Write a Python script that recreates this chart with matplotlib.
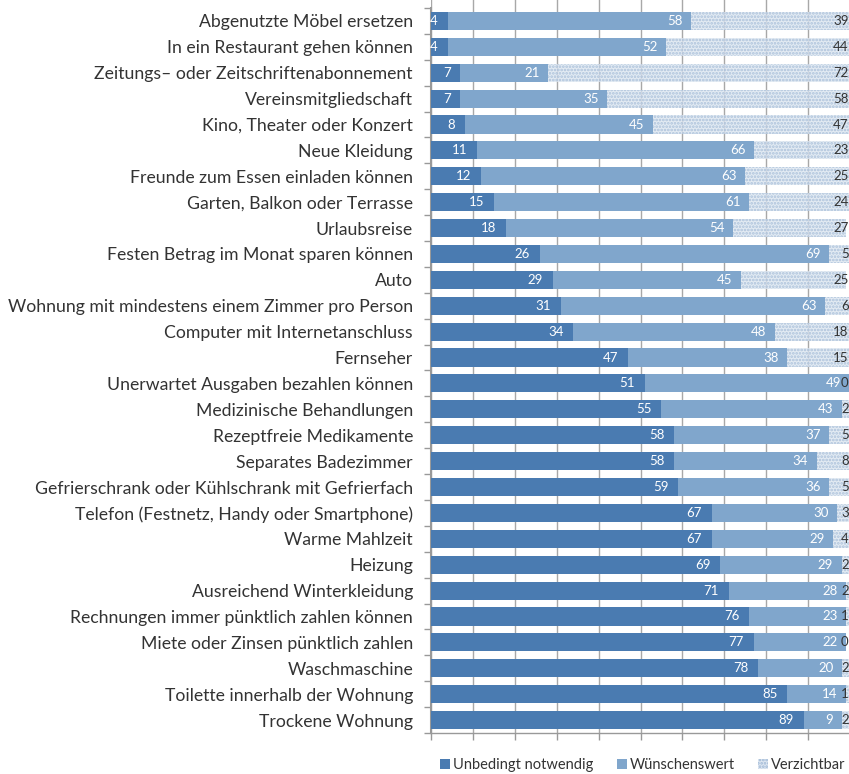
import numpy as np
import matplotlib.pyplot as plt
from matplotlib.patches import Patch

plt.rcParams['font.family'] = ['Lato', 'DejaVu Sans']
plt.rcParams['hatch.linewidth'] = 1.3

categories = [
    'Abgenutzte Möbel ersetzen',
    'In ein Restaurant gehen können',
    'Zeitungs– oder Zeitschriftenabonnement',
    'Vereinsmitgliedschaft',
    'Kino, Theater oder Konzert',
    'Neue Kleidung',
    'Freunde zum Essen einladen können',
    'Garten, Balkon oder Terrasse',
    'Urlaubsreise',
    'Festen Betrag im Monat sparen können',
    'Auto',
    'Wohnung mit mindestens einem Zimmer pro Person',
    'Computer mit Internetanschluss',
    'Fernseher',
    'Unerwartet Ausgaben bezahlen können',
    'Medizinische Behandlungen',
    'Rezeptfreie Medikamente',
    'Separates Badezimmer',
    'Gefrierschrank oder Kühlschrank mit Gefrierfach',
    'Telefon (Festnetz, Handy oder Smartphone)',
    'Warme Mahlzeit',
    'Heizung',
    'Ausreichend Winterkleidung',
    'Rechnungen immer pünktlich zahlen können',
    'Miete oder Zinsen pünktlich zahlen',
    'Waschmaschine',
    'Toilette innerhalb der Wohnung',
    'Trockene Wohnung',
]
notwendig = [4, 4, 7, 7, 8, 11, 12, 15, 18, 26, 29, 31, 34, 47, 51, 55, 58, 58, 59, 67, 67, 69, 71, 76, 77, 78, 85, 89]
wuenschenswert = [58, 52, 21, 35, 45, 66, 63, 61, 54, 69, 45, 63, 48, 38, 49, 43, 37, 34, 36, 30, 29, 29, 28, 23, 22, 20, 14, 9]
verzichtbar = [39, 44, 72, 58, 47, 23, 25, 24, 27, 5, 25, 6, 18, 15, 0, 2, 5, 8, 5, 3, 4, 2, 2, 1, 0, 2, 1, 2]
series_names = ['Unbedingt notwendig', 'Wünschenswert', 'Verzichtbar']

c_dark = '#4a7bb1'
c_light = '#80a6cc'
c_hatch_face = '#dde6f1'
c_hatch_edge = '#9fb8d5'

fig = plt.figure(figsize=(8.49, 7.74), dpi=100)
ax = fig.add_axes([0.5077, 0.053, 0.4935, 0.947])

y = np.arange(len(categories))
a = np.array(notwendig)
b = np.array(wuenschenswert)
c = np.array(verzichtbar)
h = 0.7

ax.barh(y, a, height=h, color=c_dark, zorder=3)
ax.barh(y, b, left=a, height=h, color=c_light, zorder=3)
ax.barh(y, c, left=a + b, height=h, color=c_hatch_face, alpha=0.8,
        hatch='.....', edgecolor=c_hatch_edge, linewidth=0, zorder=3)

ax.set_xlim(0, 100)
ax.set_ylim(27.5, -0.5 - 8 / 25.9)

ax.set_xticks(np.arange(0, 101, 10))
ax.set_xticklabels([])
ax.xaxis.grid(True, color='#a8a8a8', linewidth=1.0, zorder=0)
ax.set_axisbelow(True)
ax.tick_params(axis='x', length=5, color='#999999', width=1)

ax.set_yticks(y)
ax.set_yticklabels(categories, fontsize=12.7, color='#333333')
ax.set_yticks(np.arange(-0.5, len(categories)), minor=True)
ax.tick_params(axis='y', which='major', length=0, pad=13)
ax.tick_params(axis='y', which='minor', length=5, color='#999999', width=1)

for s in ['top', 'right']:
    ax.spines[s].set_visible(False)
ax.spines['left'].set_bounds(-0.5, 27.5)
ax.spines['left'].set_color('#999999')
ax.spines['left'].set_linewidth(1.5)
ax.spines['bottom'].set_color('#999999')
ax.spines['bottom'].set_linewidth(1.0)

for i in range(len(categories)):
    ax.annotate(str(a[i]), (a[i], y[i]), xytext=(-7, 0), textcoords='offset points',
                ha='right', va='center', color='white', fontsize=9.5, zorder=5)
    ax.annotate(str(b[i]), (a[i] + b[i], y[i]), xytext=(-6, 0), textcoords='offset points',
                ha='right', va='center', color='white', fontsize=9.5, zorder=5)
    ax.annotate(str(c[i]), (100, y[i]), xytext=(-1, 0), textcoords='offset points',
                ha='right', va='center', color='#333333', fontsize=9.5, zorder=5,
                annotation_clip=False)

handles = [
    Patch(facecolor=c_dark, label=series_names[0]),
    Patch(facecolor=c_light, label=series_names[1]),
    Patch(facecolor=c_hatch_face, hatch='.....', edgecolor=c_hatch_edge, linewidth=0, label=series_names[2]),
]
fig.legend(handles=handles, loc='center', bbox_to_anchor=(0.757, 0.012), ncol=3, frameon=False,
           fontsize=10.5, handlelength=0.7, handleheight=0.7, handletextpad=0.2, columnspacing=1.6,
           labelcolor='#333333', borderpad=0)

fig.savefig('out.png', dpi=100)
